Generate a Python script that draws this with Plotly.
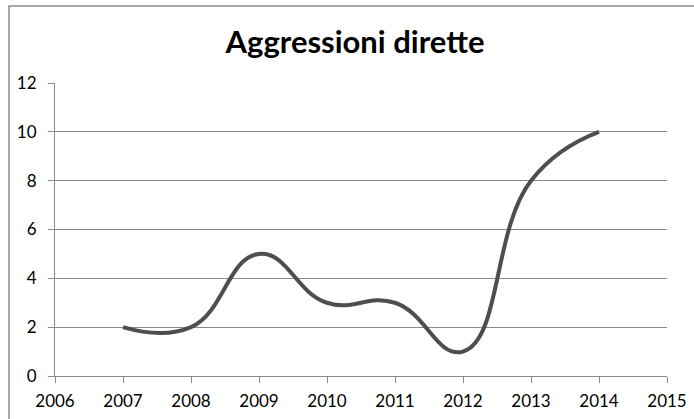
import plotly.graph_objects as go

years = [2007, 2008, 2009, 2010, 2011, 2012, 2013, 2014]
values = [2, 2, 5, 3, 3, 1, 8, 10]
x_ticks = list(range(2006, 2016))
y_ticks = [0, 2, 4, 6, 8, 10, 12]
title_text = "Aggressioni dirette"

L, R, T, B = 55, 27, 83, 43
W, H = 694, 419
pw, ph = W - L - R, H - T - B

fig = go.Figure()
fig.add_trace(go.Scatter(
    x=years, y=values, mode="lines",
    line=dict(color="#4e4e4e", width=4, shape="spline", smoothing=1.3),
    hoverinfo="skip", showlegend=False,
))

fig.add_shape(type="rect", xref="paper", yref="paper",
              x0=(9 - L) / pw, x1=(W + 5 - L) / pw,
              y0=-(B + 5) / ph, y1=(H - B - 6) / ph,
              line=dict(color="#8a8a8a", width=1.5), fillcolor="rgba(0,0,0,0)",
              layer="below")

fig.update_layout(
    width=W, height=H,
    margin=dict(l=L, r=R, t=T, b=B),
    paper_bgcolor="white", plot_bgcolor="white",
    font=dict(family="Lato, Carlito, sans-serif", color="#000000", size=17),
    title=dict(text="<b>" + title_text + "</b>", x=355 / W, xanchor="center",
               y=1 - 42 / H, yanchor="middle",
               font=dict(family="Lato, sans-serif", size=31, color="#000000")),
    xaxis=dict(range=[2006, 2015], tickvals=x_ticks, ticktext=[str(v) for v in x_ticks],
               showgrid=False, zeroline=False, showline=True, linecolor="#8a8a8a", linewidth=1,
               ticks="outside", ticklen=6, tickcolor="#8a8a8a", tickwidth=1,
               ticklabelstandoff=4, automargin=False,
               tickfont=dict(size=17), fixedrange=True),
    yaxis=dict(range=[0, 12], tickvals=y_ticks, ticktext=[str(v) for v in y_ticks],
               showgrid=True, gridcolor="#8a8a8a", gridwidth=1, zeroline=False,
               showline=True, linecolor="#8a8a8a", linewidth=1,
               ticks="outside", ticklen=6, tickcolor="#8a8a8a", tickwidth=1,
               ticklabelstandoff=8, automargin=False,
               tickfont=dict(size=17), fixedrange=True),
)

fig.write_html("out.html")
